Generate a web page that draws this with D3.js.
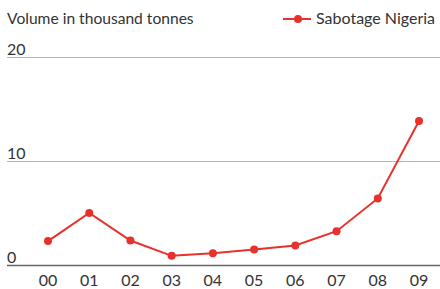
<!DOCTYPE html>
<html>
<head>
<meta charset="utf-8">
<script src="https://cdn.jsdelivr.net/npm/d3@7"></script>
<style>
  body { margin: 0; background: #fff; }
  text { font-family: Lato, "Open Sans", sans-serif; fill: #333; }
</style>
</head>
<body>
<div id="chart"></div>
<script>
// data
const years = ["00", "01", "02", "03", "04", "05", "06", "07", "08", "09"];
const sabotage = [2.35, 5.05, 2.4, 0.93, 1.18, 1.54, 1.92, 3.3, 6.45, 13.9];
const yTicks = [0, 10, 20];

const W = 440, H = 289;
const svg = d3.select("#chart").append("svg")
  .attr("width", W).attr("height", H);

const x = d3.scalePoint().domain(years).range([48, 419]);
const y = d3.scaleLinear().domain([0, 20]).range([265.5, 57.5]);
const red = "#e8312b";

// gridlines + tick labels
yTicks.forEach(t => {
  svg.append("line")
    .attr("x1", 7).attr("x2", W)
    .attr("y1", y(t)).attr("y2", y(t))
    .attr("stroke", t === 0 ? "#666" : "#b5b5b5")
    .attr("stroke-width", t === 0 ? 1.3 : 1);
  svg.append("text")
    .attr("x", 7).attr("y", y(t) - 3)
    .attr("font-size", 16)
    .text(t);
});

// x labels
svg.selectAll(".xl").data(years).enter().append("text")
  .attr("x", d => x(d)).attr("y", 286)
  .attr("text-anchor", "middle")
  .attr("font-size", 16)
  .text(d => d);

// axis title
svg.append("text").attr("x", 7).attr("y", 24)
  .attr("font-size", 15.6).text("Volume in thousand tonnes");

// line
const line = d3.line().x((d, i) => x(years[i])).y(d => y(d));
svg.append("path").datum(sabotage)
  .attr("fill", "none").attr("stroke", red).attr("stroke-width", 2)
  .attr("d", line);
svg.selectAll(".pt").data(sabotage).enter().append("circle")
  .attr("cx", (d, i) => x(years[i])).attr("cy", d => y(d))
  .attr("r", 4).attr("fill", red);

// legend
svg.append("line").attr("x1", 283).attr("x2", 311).attr("y1", 19).attr("y2", 19)
  .attr("stroke", red).attr("stroke-width", 2);
svg.append("circle").attr("cx", 298).attr("cy", 19).attr("r", 4).attr("fill", red);
svg.append("text").attr("x", 316).attr("y", 24).attr("font-size", 16)
  .text("Sabotage Nigeria");
</script>
</body>
</html>
